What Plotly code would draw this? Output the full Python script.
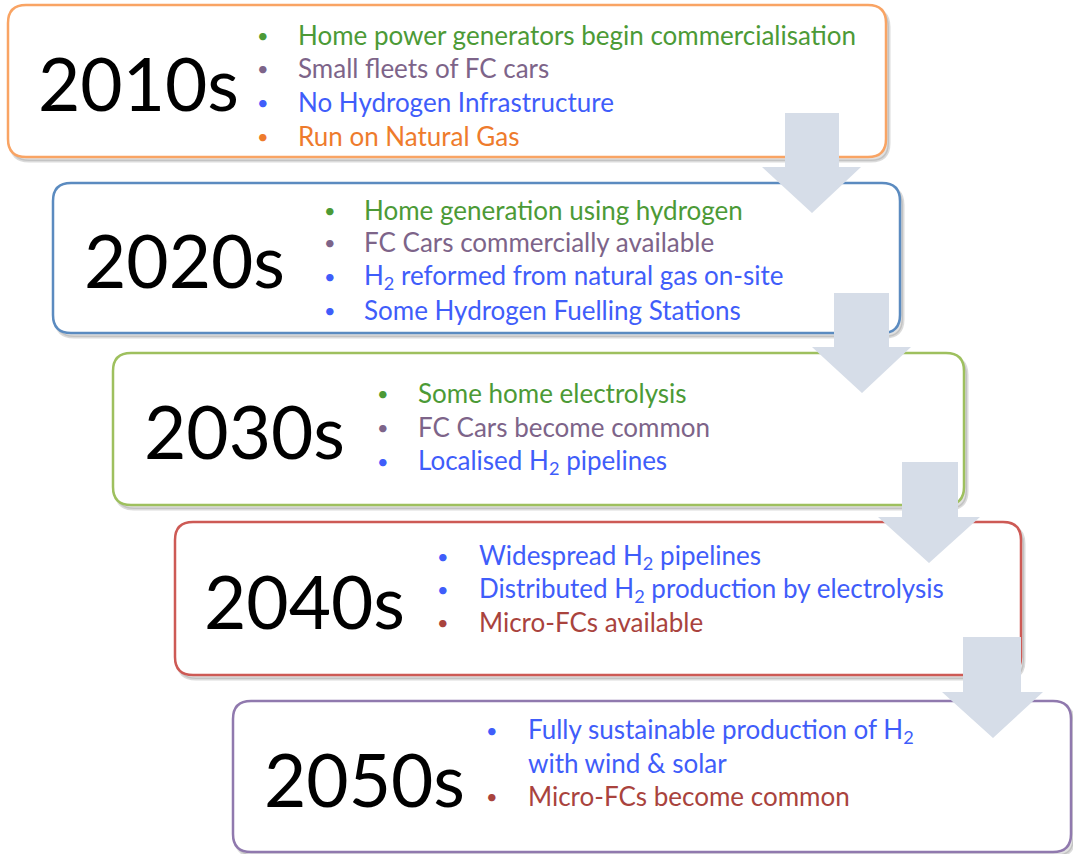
import plotly.graph_objects as go

# ---- data ----
decades = ["2010s", "2020s", "2030s", "2040s", "2050s"]
bullets = [
    ["Home power generators begin commercialisation", "Small fleets of FC cars",
     "No Hydrogen Infrastructure", "Run on Natural Gas"],
    ["Home generation using hydrogen", "FC Cars commercially available",
     "H<sub>2</sub> reformed from natural gas on-site", "Some Hydrogen Fuelling Stations"],
    ["Some home electrolysis", "FC Cars become common", "Localised H<sub>2</sub> pipelines"],
    ["Widespread H<sub>2</sub> pipelines", "Distributed H<sub>2</sub> production by electrolysis",
     "Micro-FCs available"],
    ["Fully sustainable production of H<sub>2</sub>", "with wind & solar", "Micro-FCs become common"],
]
has_bullet = [[1, 1, 1, 1], [1, 1, 1, 1], [1, 1, 1], [1, 1, 1], [1, 0, 1]]
text_kind = [
    ["green", "purple", "blue", "orange"],
    ["green", "purple", "blue", "blue"],
    ["green", "purple", "blue"],
    ["blue", "blue", "red"],
    ["blue", "blue", "red"],
]

# ---- styles / layout geometry ----
TXT = {"green": "#4C9A36", "purple": "#7D6489", "blue": "#3F5DFA",
       "orange": "#EE7B2C", "red": "#A9433D"}
BORDER = ["#F9A464", "#5B8BC0", "#9EC05E", "#CD5A55", "#9079AE"]
ARROW = "#D6DDE8"
boxes = [(8, 5, 886, 157), (53, 183, 900, 333), (113, 353, 964, 505),
         (175, 522, 1021, 675), (233, 701, 1071, 852)]
label_cx = [138, 184, 244, 304, 364]
bullet_x = [263, 330, 383, 443, 492]
text_x = [296, 362, 416, 477, 526]
line_y = [[35, 68, 102, 136], [210, 242, 276, 310], [393, 427, 461],
          [556, 589, 622], [730, 763, 796]]
arrows = [  # shaft x1, x2, top, head y, head x1, head x2, tip x, tip y
    (785, 839, 113, 167, 762, 861, 812, 213),
    (834, 889, 293, 347, 812, 911, 862, 393),
    (902, 958, 462, 517, 878, 980, 929, 563),
    (963, 1021, 637, 692, 942, 1043, 993, 738),
]


def rrect(x0, y0, x1, y1, r=18):
    return (f"M {x0+r},{y0} L {x1-r},{y0} Q {x1},{y0} {x1},{y0+r} "
            f"L {x1},{y1-r} Q {x1},{y1} {x1-r},{y1} L {x0+r},{y1} "
            f"Q {x0},{y1} {x0},{y1-r} L {x0},{y0+r} Q {x0},{y0} {x0+r},{y0} Z")


fig = go.Figure()
shapes = []
annotations = []
for i, (x0, y0, x1, y1) in enumerate(boxes):
    # shadow
    shapes.append(dict(type="path", path=rrect(x0 + 3, y0 + 4, x1 + 3, y1 + 4),
                       fillcolor="rgba(90,90,90,0.18)", line=dict(width=3, color="rgba(90,90,90,0.22)"),
                       xref="x", yref="y", layer="above"))
    shapes.append(dict(type="path", path=rrect(x0, y0, x1, y1),
                       fillcolor="white", line=dict(width=2.5, color=BORDER[i]),
                       xref="x", yref="y", layer="above"))
    annotations.append(dict(x=label_cx[i], y=(y0 + y1) / 2 + 2, text=decades[i],
                            xref="x", yref="y", showarrow=False, xanchor="center", yanchor="middle",
                            font=dict(family="Lato, sans-serif", size=73, color="black")))
    for j, t in enumerate(bullets[i]):
        col = TXT[text_kind[i][j]]
        if has_bullet[i][j]:
            annotations.append(dict(x=bullet_x[i], y=line_y[i][j], text="•", xref="x", yref="y",
                                    showarrow=False, xanchor="center", yanchor="middle",
                                    font=dict(family="Lato", size=20, color=col)))
        annotations.append(dict(x=text_x[i], y=line_y[i][j], text=t, xref="x", yref="y",
                                showarrow=False, xanchor="left", yanchor="middle",
                                font=dict(family="Lato", size=26, color=col)))

for (sx1, sx2, top, hy, hx1, hx2, tx, ty) in arrows:
    p = (f"M {sx1},{top} L {sx2},{top} L {sx2},{hy} L {hx2},{hy} L {tx},{ty} "
         f"L {hx1},{hy} L {sx1},{hy} Z")
    shapes.append(dict(type="path", path=p, fillcolor=ARROW, line=dict(width=0),
                       xref="x", yref="y", layer="above"))

fig.update_layout(
    width=1073, height=854, margin=dict(l=0, r=0, t=0, b=0),
    paper_bgcolor="white", plot_bgcolor="white", showlegend=False,
    xaxis=dict(range=[0, 1073], visible=False, fixedrange=True),
    yaxis=dict(range=[854, 0], visible=False, fixedrange=True),
    shapes=shapes, annotations=annotations,
)
fig.write_html("out.html", config={"displayModeBar": False},
               post_script="document.body.style.margin='0';document.body.style.overflow='hidden';")
